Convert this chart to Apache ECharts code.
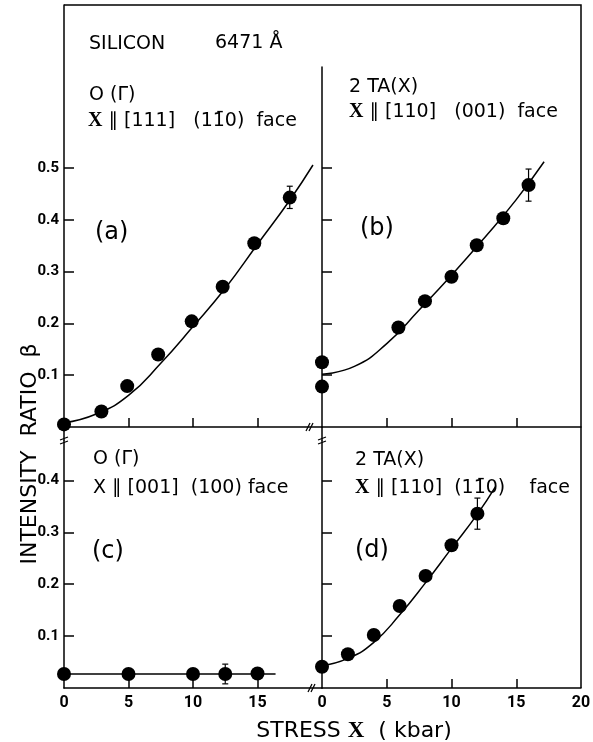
<!DOCTYPE html>
<html>
<head>
<meta charset="utf-8">
<script src="https://cdn.jsdelivr.net/npm/echarts@6/dist/echarts.min.js"></script>
<style>
html,body{margin:0;padding:0;background:#fff}
#chart{width:593px;height:742px}
</style>
</head>
<body>
<div id="chart"></div>
<script>
// panel (a)  O(Γ)  X || [111]
var ptsA   = [[0,0.005],[2.9,0.030],[4.9,0.079],[7.3,0.140],[9.9,0.204],[12.3,0.271],[14.75,0.355],[17.5,0.443]];
var curveA = [[0,0.008],[2.5,0.025],[5,0.061],[7.5,0.123],[10,0.194],[12.5,0.268],[15,0.353],[17.5,0.438],[19.3,0.506]];
var errA   = [[17.5,0.422,0.465]];

// panel (b)  2TA(X)  X || [110]
var ptsB   = [[0,0.125],[0,0.078],[5.9,0.192],[7.95,0.243],[10,0.290],[11.95,0.351],[14,0.403],[15.95,0.467]];
var curveB = [[0,0.102],[2.5,0.117],[5,0.161],[7.5,0.226],[10,0.293],[12.5,0.364],[15,0.439],[17.15,0.512]];
var errB   = [[15.95,0.436,0.498]];

// panel (c)  O(Γ)  X || [001]
var ptsC   = [[0,0.027],[5,0.027],[10,0.027],[12.5,0.027],[15,0.028]];
var curveC = [[0,0.027],[16.4,0.027]];
var errC   = [[12.5,0.008,0.046]];

// panel (d)  2TA(X)  X || [110] (1-10)
var ptsD   = [[0,0.041],[2,0.065],[4,0.102],[6,0.158],[8,0.216],[10,0.275],[12,0.336]];
var curveD = [[0,0.043],[2,0.057],[4,0.088],[6,0.141],[8,0.203],[10,0.269],[12,0.335],[13.4,0.388]];
var errD   = [[12,0.306,0.366]];

var xTicks = [5, 10, 15];
var xLabelsC = [0, 5, 10, 15];
var xLabelsD = [0, 5, 10, 15, 20];
var yTicksTop = [0.1, 0.2, 0.3, 0.4, 0.5];
var yTicksBot = [0.1, 0.2, 0.3, 0.4];

var black = '#000';
var txtFont = 'DejaVu Sans';

function xAx(idx, labels){
  return {
    type: 'value', gridIndex: idx, min: 0, max: 20, interval: 5,
    axisLine: {show: true, lineStyle: {color: black, width: 1.5}},
    axisTick: {show: true, inside: true, length: 9, customValues: xTicks, lineStyle: {color: black, width: 1.5}},
    axisLabel: labels ? {show: true, customValues: labels, margin: 7, color: black,
      fontFamily: 'Roboto', fontWeight: 'bold', fontSize: 16} : {show: false},
    splitLine: {show: false}
  };
}
function yAx(idx, max, ticks, showLabel){
  return {
    type: 'value', gridIndex: idx, min: 0, max: max,
    axisLine: {show: true, lineStyle: {color: black, width: 1.5}},
    axisTick: {show: true, inside: true, length: 10, customValues: ticks, lineStyle: {color: black, width: 1.5}},
    axisLabel: showLabel ? {show: true, customValues: ticks, margin: 5, color: black,
      fontFamily: 'Roboto', fontWeight: 'bold', fontSize: 15} : {show: false},
    splitLine: {show: false}
  };
}

function errSeries(idx, data){
  return {
    type: 'custom', xAxisIndex: idx, yAxisIndex: idx, data: data, z: 3,
    renderItem: function(params, api){
      var hi = api.coord([api.value(0), api.value(2)]);
      var lo = api.coord([api.value(0), api.value(1)]);
      var st = {stroke: black, lineWidth: 1.2};
      return {type: 'group', children: [
        {type: 'line', shape: {x1: hi[0], y1: hi[1], x2: lo[0], y2: lo[1]}, style: st},
        {type: 'line', shape: {x1: hi[0]-3, y1: hi[1], x2: hi[0]+3, y2: hi[1]}, style: st},
        {type: 'line', shape: {x1: lo[0]-3, y1: lo[1], x2: lo[0]+3, y2: lo[1]}, style: st}
      ]};
    }
  };
}
function dots(idx, data){
  return {type: 'scatter', xAxisIndex: idx, yAxisIndex: idx, data: data, symbolSize: 14,
    itemStyle: {color: black, opacity: 1}, clip: false, z: 4};
}
function curve(idx, data, smooth){
  return {type: 'line', xAxisIndex: idx, yAxisIndex: idx, data: data, showSymbol: false, symbol: 'none',
    smooth: smooth, clip: false, lineStyle: {color: black, width: 1.5}, z: 2};
}

function txt(x, y, text, size, extra){
  var s = {text: text, fill: black, font: (size || 19) + 'px "' + txtFont + '"', verticalAlign: 'middle'};
  if (extra) for (var k in extra) s[k] = extra[k];
  return {type: 'text', x: x, y: y, style: s, z: 10};
}
var bigX = {b: {fontFamily: 'Liberation Serif', fontWeight: 'bold', fontSize: 20, fill: black}};
function seg(x1, y1, x2, y2, w){
  return {type: 'line', shape: {x1: x1, y1: y1, x2: x2, y2: y2}, style: {stroke: black, lineWidth: w || 1.5}, z: 10};
}

var mychart = echarts.init(document.getElementById('chart'));

var option = {
  animation: false,
  backgroundColor: '#fff',
  grid: [
    {left: 64, top: 5, width: 258, height: 422, containLabel: false, outerBoundsMode: 'none'},
    {left: 322, top: 67, width: 259, height: 360, containLabel: false, outerBoundsMode: 'none'},
    {left: 64, top: 441, width: 258, height: 247, containLabel: false, outerBoundsMode: 'none'},
    {left: 322, top: 441, width: 259, height: 247, containLabel: false, outerBoundsMode: 'none'}
  ],
  xAxis: [xAx(0, null), xAx(1, null), xAx(2, xLabelsC), xAx(3, xLabelsD)],
  yAxis: [
    yAx(0, 0.815, yTicksTop, true),
    yAx(1, 0.695, yTicksTop, false),
    yAx(2, 0.476, yTicksBot, true),
    yAx(3, 0.476, yTicksBot, false)
  ],
  series: [
    curve(0, curveA, 0.5), dots(0, ptsA), errSeries(0, errA),
    curve(1, curveB, 0.5), dots(1, ptsB), errSeries(1, errB),
    curve(2, curveC, false), dots(2, ptsC), errSeries(2, errC),
    curve(3, curveD, 0.5), dots(3, ptsD), errSeries(3, errD)
  ],
  graphic: [
    // outer frame (top + right)
    {type: 'polyline', shape: {points: [[64,5],[581,5],[581,688]]}, style: {stroke: black, lineWidth: 1.5, fill: null}, z: 10},
    // axis gaps between upper and lower panels
    seg(64, 427, 64, 441), seg(322, 427, 322, 441),
    // break marks
    seg(306, 431, 310, 423, 1.2), seg(309, 431, 313, 423, 1.2),
    seg(308, 692, 312, 684, 1.2), seg(311, 692, 315, 684, 1.2),
    seg(60, 440, 68, 437, 1.2), seg(60, 444, 68, 441, 1.2),
    seg(318, 440, 326, 437, 1.2), seg(318, 444, 326, 441, 1.2),

    txt(89, 44, 'SILICON', 19),
    txt(215, 43, '6471 Å', 19),
    txt(89, 95, 'O (Γ)', 19),
    txt(88, 121, '{b|X} ∥ [111]   (11\u03040)  face', 19, {rich: bigX}),
    txt(95, 233, '(a)', 24),

    txt(349, 87, '2 TA(X)', 19),
    txt(349, 112, '{b|X} ∥ [110]   (001)  face', 19, {rich: bigX}),
    txt(360, 229, '(b)', 24),

    txt(93, 459, 'O (Γ)', 19),
    txt(93, 488, 'X ∥ [001]  (100) face', 19),
    txt(92, 552, '(c)', 24),

    txt(355, 460, '2 TA(X)', 19),
    txt(355, 488, '{b|X} ∥ [110]  (11\u03040)    face', 19, {rich: bigX}),
    txt(355, 551, '(d)', 24),

    // axis titles
    {type: 'text', x: 30, y: 454, rotation: Math.PI / 2, z: 10,
      style: {text: 'INTENSITY  RATIO  β', fill: black, font: '22px "DejaVu Sans"', align: 'center', verticalAlign: 'middle'}},
    {type: 'text', x: 354, y: 731, z: 10,
      style: {text: 'STRESS {b|X}  ( kbar)', fill: black, font: '22px "DejaVu Sans"', align: 'center', verticalAlign: 'middle',
        rich: {b: {fontFamily: 'Liberation Serif', fontWeight: 'bold', fontSize: 23, fill: black}}}}
  ]
};

mychart.setOption(option);
</script>
</body>
</html>
